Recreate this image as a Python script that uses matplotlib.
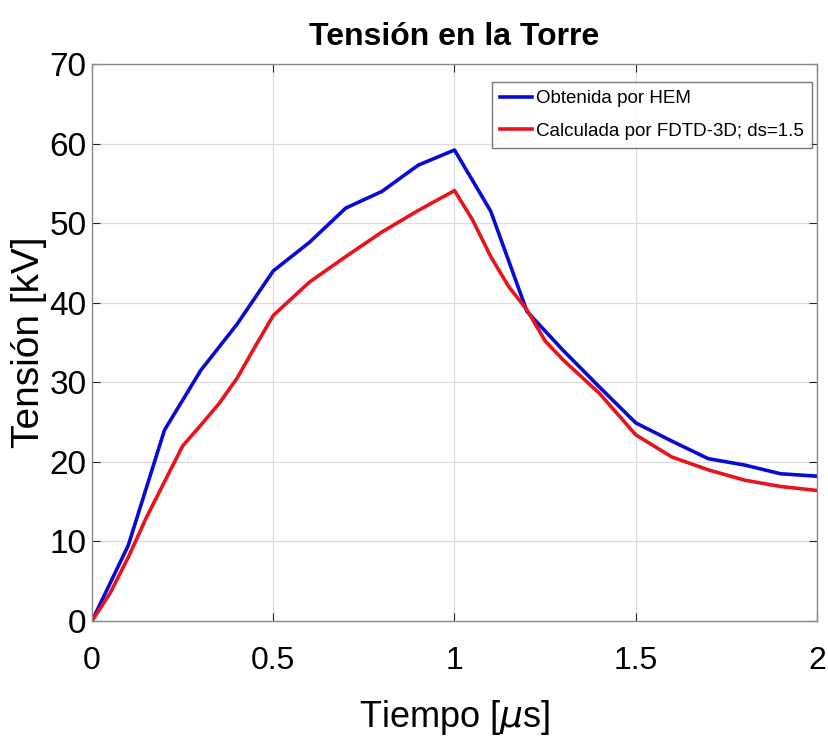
import numpy as np
import matplotlib.pyplot as plt
from matplotlib import font_manager

# datos
t_hem = [0, 0.1, 0.2, 0.3, 0.4, 0.5, 0.6, 0.7, 0.8, 0.9, 1.0, 1.1, 1.2, 1.3, 1.4, 1.5, 1.6, 1.7, 1.8, 1.9, 2.0]
v_hem = [0, 9.5, 24.0, 31.5, 37.3, 44.0, 47.6, 51.9, 54.0, 57.3, 59.2, 51.5, 38.9, 34.0, 29.4, 24.9, 22.6, 20.4, 19.6, 18.5, 18.2]

t_fdtd = [0, 0.05, 0.1, 0.15, 0.2, 0.25, 0.3, 0.35, 0.4, 0.45, 0.5, 0.6, 0.7, 0.8, 0.9, 1.0, 1.05, 1.1, 1.15, 1.2, 1.25, 1.3, 1.4, 1.5, 1.6, 1.7, 1.8, 1.9, 2.0]
v_fdtd = [0, 3.5, 8.0, 13.0, 17.5, 22.0, 24.6, 27.3, 30.5, 34.5, 38.4, 42.6, 45.8, 48.9, 51.6, 54.1, 50.4, 45.8, 42.0, 39.1, 35.2, 32.8, 28.6, 23.4, 20.6, 19.0, 17.7, 16.9, 16.4]

labels = ["Obtenida por HEM", "Calculada por FDTD-3D; ds=1.5"]
xticks = [0, 0.5, 1, 1.5, 2]
yticks = [0, 10, 20, 30, 40, 50, 60, 70]

names = {f.name for f in font_manager.fontManager.ttflist}
fam = ['Liberation Sans Narrow'] if 'Liberation Sans Narrow' in names else ['Liberation Sans']
plt.rcParams['font.family'] = fam + ['DejaVu Sans']

fig = plt.figure(figsize=(8.29, 7.41), dpi=100)
ax = fig.add_axes([0.111, 0.162, 0.8745, 0.7515])

ax.plot(t_hem, v_hem, color='#0a0ad2', lw=2.6, label=labels[0])
ax.plot(t_fdtd, v_fdtd, color='#e8141c', lw=2.6, label=labels[1])

ax.set_xlim(0, 2)
ax.set_ylim(0, 70)
ax.set_xticks(xticks)
ax.set_xticklabels(['0', '0.5', '1', '1.5', '2'])
ax.set_yticks(yticks)
ax.grid(True, color='#dcdcdc', lw=0.9)
ax.tick_params(direction='in', length=6, colors='#262626', labelcolor='black')
ax.tick_params(top=True, right=True)
ax.tick_params(axis='x', labelsize=23, pad=18)
ax.tick_params(axis='y', labelsize=24, pad=4)
for s in ax.spines.values():
    s.set_color('#8a8a8a')
    s.set_linewidth(1.0)

ax.set_title('Tensión en la Torre', fontsize=23, fontweight='bold', pad=14)
ax.set_xlabel('Tiempo [$\\mu$s]', fontsize=26, labelpad=16)
ax.set_ylabel('Tensión [kV]', fontsize=28, labelpad=2)

leg = ax.legend(loc='upper right', fontsize=13.5, frameon=True, fancybox=False,
                borderpad=0.45, handlelength=1.7, handletextpad=0.2, labelspacing=0.8,
                borderaxespad=0, bbox_to_anchor=(0.9935, 0.968))
leg.get_frame().set_edgecolor('#555555')
leg.get_frame().set_linewidth(1.0)

fig.savefig('out.png', dpi=100)
